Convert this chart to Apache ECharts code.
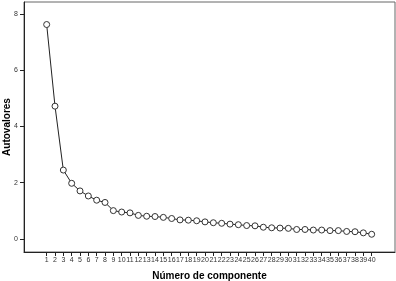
<!DOCTYPE html>
<html>
<head>
<meta charset="utf-8">
<script src="https://cdn.jsdelivr.net/npm/echarts@6/dist/echarts.min.js"></script>
<style>
  html, body { margin: 0; padding: 0; background: #fff; }
  #chart { width: 396px; height: 281px; }
</style>
</head>
<body>
<div id="chart"></div>
<script>
// component numbers (x axis)
const components = [];
for (let i = 1; i <= 40; i++) components.push(i);

// eigenvalues
const eigenvalues = [
    7.62, 4.72, 2.45, 1.98, 1.71, 1.53, 1.38, 1.30, 1.01, 0.96,
    0.93, 0.84, 0.81, 0.80, 0.77, 0.73, 0.68, 0.67, 0.65, 0.61,
    0.58, 0.56, 0.53, 0.51, 0.48, 0.47, 0.42, 0.40, 0.39, 0.38,
    0.34, 0.34, 0.32, 0.32, 0.30, 0.30, 0.27, 0.26, 0.22, 0.17
];

// y axis tick labels
const yTicks = [0, 2, 4, 6, 8];

const fontFamily = '"Liberation Sans", Arial, sans-serif';

let chart = echarts.init(document.getElementById('chart'));

const option = {
    animation: false,
    backgroundColor: '#fff',
    grid: {
        left: 24,
        top: 2,
        right: 1,
        bottom: 29,
        containLabel: false,
        outerBoundsMode: 'none',
        show: true,
        borderColor: '#666',
        borderWidth: 1,
    },
    xAxis: {
        type: 'value',
        min: -1.72,
        max: 42.8,
        name: 'Número de componente',
        nameLocation: 'middle',
        nameGap: 19,
        nameMoveOverlap: false,
        nameTextStyle: { fontFamily: fontFamily, fontSize: 10, fontWeight: 'bold', color: '#000' },
        axisLine: { show: true, onZero: false, lineStyle: { color: '#222', width: 1 } },
        axisTick: { show: true, length: 4, customValues: components, lineStyle: { color: '#222' } },
        axisLabel: {
            customValues: components,
            margin: 5,
            fontFamily: fontFamily,
            fontSize: 7,
            color: '#333',
        },
        splitLine: { show: false },
    },
    yAxis: {
        type: 'value',
        min: -0.46,
        max: 8.42,
        name: 'Autovalores',
        nameLocation: 'middle',
        nameGap: 12,
        nameMoveOverlap: false,
        nameTextStyle: { fontFamily: fontFamily, fontSize: 10, fontWeight: 'bold', color: '#000' },
        axisLine: { show: true, onZero: false, lineStyle: { color: '#222', width: 1 } },
        axisTick: { show: true, length: 4, customValues: yTicks, lineStyle: { color: '#222' } },
        axisLabel: {
            customValues: yTicks,
            margin: 6,
            fontFamily: fontFamily,
            fontSize: 7,
            color: '#333',
        },
        splitLine: { show: false },
    },
    series: [{
        type: 'line',
        data: components.map((c, i) => [c, eigenvalues[i]]),
        symbol: 'circle',
        symbolSize: 6,
        showSymbol: true,
        lineStyle: { color: '#222', width: 1 },
        itemStyle: { color: '#fff', borderColor: '#333', borderWidth: 1 },
    }]
};

chart.setOption(option);
</script>
</body>
</html>
